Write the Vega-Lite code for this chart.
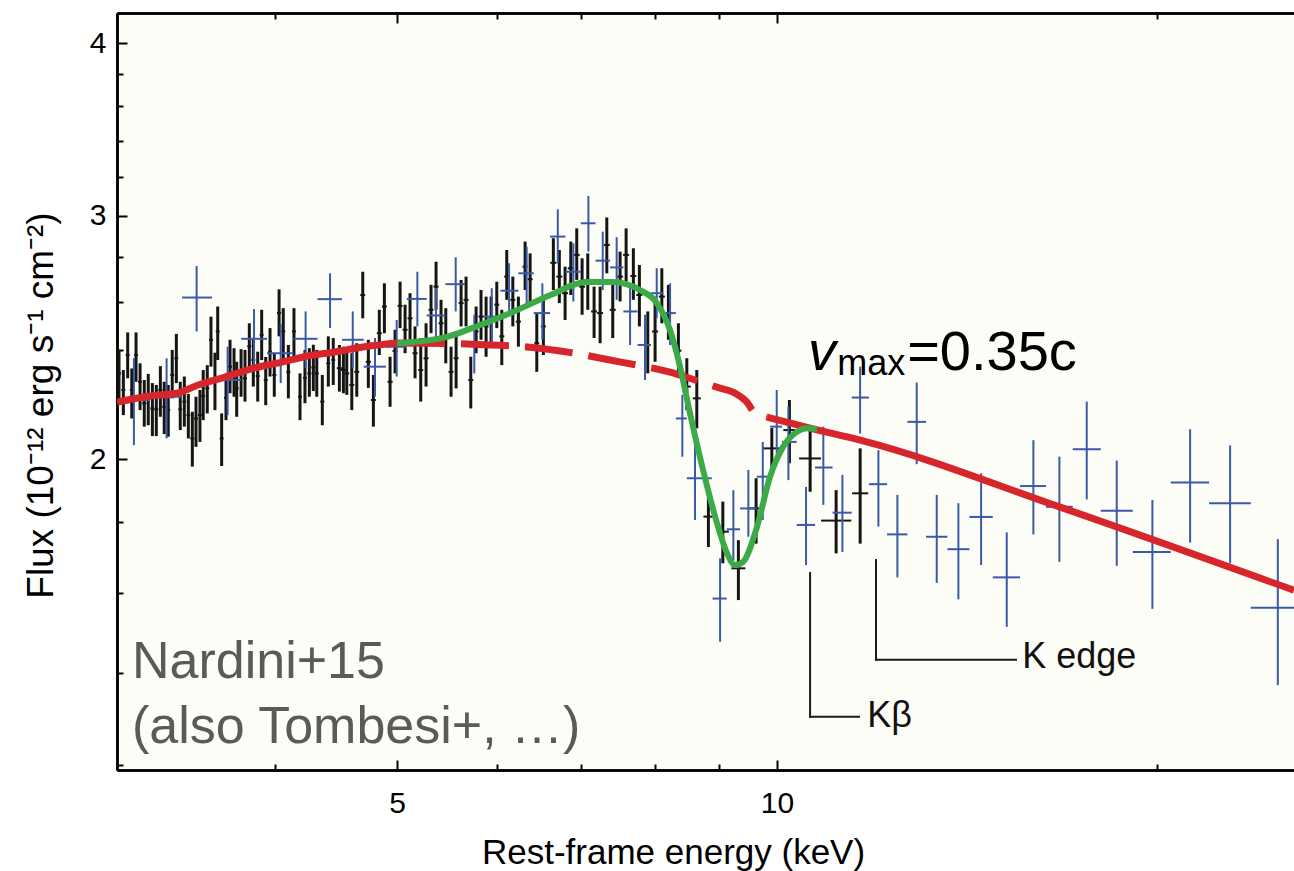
{
  "$schema": "https://vega.github.io/schema/vega-lite/v6.json",
  "width": 1177,
  "height": 757,
  "autosize": {"type": "none"},
  "padding": {"left": 117, "top": 13, "right": 0, "bottom": 101},
  "background": "#ffffff",
  "config": {
    "view": {"stroke": null, "fill": "#fdfdf7"},
    "axis": {"grid": false, "domainColor": "#000000", "domainWidth": 2.5, "tickColor": "#000000", "tickWidth": 2, "labelFont": "Liberation Sans", "titleFont": "Liberation Sans", "labelColor": "#000000", "titleColor": "#000000"}
  },
  "resolve": {"axis": {"x": "independent", "y": "independent"}},
  "datasets": {
    "black": [
      {"e":3.011,"el":3.000,"eh":3.022,"f":2.307,"fl":2.207,"fh":2.399},
      {"e":3.035,"el":3.024,"eh":3.046,"f":2.244,"fl":2.152,"fh":2.320},
      {"e":3.059,"el":3.048,"eh":3.070,"f":2.379,"fl":2.288,"fh":2.470},
      {"e":3.082,"el":3.071,"eh":3.093,"f":2.244,"fl":2.140,"fh":2.326},
      {"e":3.106,"el":3.095,"eh":3.117,"f":2.379,"fl":2.275,"fh":2.470},
      {"e":3.129,"el":3.118,"eh":3.140,"f":2.275,"fl":2.170,"fh":2.346},
      {"e":3.153,"el":3.141,"eh":3.165,"f":2.195,"fl":2.111,"fh":2.282},
      {"e":3.176,"el":3.164,"eh":3.188,"f":2.213,"fl":2.116,"fh":2.305},
      {"e":3.200,"el":3.188,"eh":3.212,"f":2.176,"fl":2.078,"fh":2.270},
      {"e":3.223,"el":3.211,"eh":3.235,"f":2.173,"fl":2.078,"fh":2.263},
      {"e":3.247,"el":3.235,"eh":3.259,"f":2.244,"fl":2.146,"fh":2.335},
      {"e":3.270,"el":3.258,"eh":3.282,"f":2.182,"fl":2.085,"fh":2.275},
      {"e":3.294,"el":3.282,"eh":3.306,"f":2.170,"fl":2.076,"fh":2.263},
      {"e":3.318,"el":3.306,"eh":3.330,"f":2.301,"fl":2.213,"fh":2.399},
      {"e":3.343,"el":3.331,"eh":3.355,"f":2.366,"fl":2.270,"fh":2.464},
      {"e":3.367,"el":3.355,"eh":3.379,"f":2.173,"fl":2.099,"fh":2.275},
      {"e":3.392,"el":3.380,"eh":3.404,"f":2.201,"fl":2.111,"fh":2.295},
      {"e":3.417,"el":3.405,"eh":3.429,"f":2.152,"fl":2.070,"fh":2.229},
      {"e":3.442,"el":3.429,"eh":3.455,"f":2.070,"fl":1.975,"fh":2.164},
      {"e":3.465,"el":3.452,"eh":3.478,"f":2.140,"fl":2.041,"fh":2.219},
      {"e":3.490,"el":3.477,"eh":3.503,"f":2.152,"fl":2.058,"fh":2.244},
      {"e":3.511,"el":3.498,"eh":3.524,"f":2.222,"fl":2.134,"fh":2.320},
      {"e":3.537,"el":3.524,"eh":3.550,"f":2.250,"fl":2.158,"fh":2.339},
      {"e":3.561,"el":3.548,"eh":3.574,"f":2.440,"fl":2.333,"fh":2.536},
      {"e":3.587,"el":3.574,"eh":3.600,"f":2.288,"fl":2.170,"fh":2.388},
      {"e":3.605,"el":3.592,"eh":3.618,"f":2.474,"fl":2.359,"fh":2.579},
      {"e":3.631,"el":3.618,"eh":3.644,"f":2.070,"fl":1.977,"fh":2.158},
      {"e":3.660,"el":3.647,"eh":3.673,"f":2.215,"fl":2.134,"fh":2.301},
      {"e":3.687,"el":3.674,"eh":3.700,"f":2.333,"fl":2.232,"fh":2.440},
      {"e":3.714,"el":3.700,"eh":3.728,"f":2.307,"fl":2.219,"fh":2.406},
      {"e":3.732,"el":3.718,"eh":3.746,"f":2.250,"fl":2.146,"fh":2.352},
      {"e":3.762,"el":3.748,"eh":3.776,"f":2.307,"fl":2.219,"fh":2.402},
      {"e":3.789,"el":3.775,"eh":3.803,"f":2.288,"fl":2.201,"fh":2.399},
      {"e":3.819,"el":3.805,"eh":3.833,"f":2.414,"fl":2.320,"fh":2.508},
      {"e":3.847,"el":3.833,"eh":3.861,"f":2.359,"fl":2.257,"fh":2.447},
      {"e":3.878,"el":3.864,"eh":3.892,"f":2.297,"fl":2.201,"fh":2.392},
      {"e":3.906,"el":3.892,"eh":3.920,"f":2.460,"fl":2.359,"fh":2.565},
      {"e":3.935,"el":3.921,"eh":3.949,"f":2.282,"fl":2.188,"fh":2.371},
      {"e":3.966,"el":3.952,"eh":3.980,"f":2.392,"fl":2.295,"fh":2.488},
      {"e":3.997,"el":3.982,"eh":4.012,"f":2.301,"fl":2.219,"fh":2.386},
      {"e":4.032,"el":4.017,"eh":4.047,"f":2.551,"fl":2.454,"fh":2.654},
      {"e":4.063,"el":4.048,"eh":4.078,"f":2.474,"fl":2.359,"fh":2.572},
      {"e":4.101,"el":4.086,"eh":4.116,"f":2.313,"fl":2.213,"fh":2.419},
      {"e":4.143,"el":4.128,"eh":4.158,"f":2.474,"fl":2.372,"fh":2.572},
      {"e":4.189,"el":4.174,"eh":4.204,"f":2.219,"fl":2.134,"fh":2.307},
      {"e":4.227,"el":4.212,"eh":4.242,"f":2.290,"fl":2.195,"fh":2.399},
      {"e":4.261,"el":4.245,"eh":4.277,"f":2.307,"fl":2.219,"fh":2.406},
      {"e":4.292,"el":4.277,"eh":4.307,"f":2.330,"fl":2.240,"fh":2.420},
      {"e":4.319,"el":4.303,"eh":4.335,"f":2.307,"fl":2.219,"fh":2.399},
      {"e":4.363,"el":4.347,"eh":4.379,"f":2.201,"fl":2.116,"fh":2.301},
      {"e":4.411,"el":4.395,"eh":4.427,"f":2.346,"fl":2.257,"fh":2.454},
      {"e":4.451,"el":4.435,"eh":4.467,"f":2.359,"fl":2.263,"fh":2.447},
      {"e":4.501,"el":4.480,"eh":4.522,"f":2.327,"fl":2.238,"fh":2.419},
      {"e":4.534,"el":4.513,"eh":4.555,"f":2.320,"fl":2.232,"fh":2.412},
      {"e":4.562,"el":4.541,"eh":4.583,"f":2.307,"fl":2.226,"fh":2.399},
      {"e":4.604,"el":4.583,"eh":4.625,"f":2.263,"fl":2.170,"fh":2.386},
      {"e":4.646,"el":4.625,"eh":4.667,"f":2.313,"fl":2.219,"fh":2.426},
      {"e":4.697,"el":4.676,"eh":4.718,"f":2.629,"fl":2.529,"fh":2.733},
      {"e":4.745,"el":4.723,"eh":4.767,"f":2.352,"fl":2.252,"fh":2.440},
      {"e":4.789,"el":4.767,"eh":4.811,"f":2.207,"fl":2.111,"fh":2.301},
      {"e":4.841,"el":4.819,"eh":4.863,"f":2.467,"fl":2.379,"fh":2.565},
      {"e":4.886,"el":4.864,"eh":4.908,"f":2.579,"fl":2.467,"fh":2.681},
      {"e":4.937,"el":4.914,"eh":4.960,"f":2.275,"fl":2.182,"fh":2.372},
      {"e":4.982,"el":4.959,"eh":5.005,"f":2.395,"fl":2.307,"fh":2.481},
      {"e":5.028,"el":5.005,"eh":5.051,"f":2.582,"fl":2.488,"fh":2.688},
      {"e":5.074,"el":5.051,"eh":5.097,"f":2.481,"fl":2.386,"fh":2.587},
      {"e":5.120,"el":5.097,"eh":5.143,"f":2.529,"fl":2.440,"fh":2.637},
      {"e":5.167,"el":5.143,"eh":5.191,"f":2.386,"fl":2.288,"fh":2.495},
      {"e":5.221,"el":5.197,"eh":5.245,"f":2.320,"fl":2.201,"fh":2.447},
      {"e":5.272,"el":5.248,"eh":5.296,"f":2.366,"fl":2.257,"fh":2.508},
      {"e":5.320,"el":5.296,"eh":5.344,"f":2.565,"fl":2.467,"fh":2.674},
      {"e":5.369,"el":5.344,"eh":5.394,"f":2.666,"fl":2.565,"fh":2.779},
      {"e":5.418,"el":5.393,"eh":5.443,"f":2.508,"fl":2.412,"fh":2.608},
      {"e":5.465,"el":5.440,"eh":5.490,"f":2.454,"fl":2.346,"fh":2.572},
      {"e":5.518,"el":5.493,"eh":5.543,"f":2.313,"fl":2.219,"fh":2.412},
      {"e":5.569,"el":5.544,"eh":5.594,"f":2.366,"fl":2.250,"fh":2.474},
      {"e":5.620,"el":5.594,"eh":5.646,"f":2.594,"fl":2.495,"fh":2.696},
      {"e":5.671,"el":5.645,"eh":5.697,"f":2.608,"fl":2.495,"fh":2.711},
      {"e":5.720,"el":5.694,"eh":5.746,"f":2.282,"fl":2.176,"fh":2.372},
      {"e":5.776,"el":5.750,"eh":5.802,"f":2.474,"fl":2.386,"fh":2.579},
      {"e":5.828,"el":5.801,"eh":5.855,"f":2.536,"fl":2.440,"fh":2.651},
      {"e":5.882,"el":5.855,"eh":5.909,"f":2.495,"fl":2.372,"fh":2.622},
      {"e":5.936,"el":5.909,"eh":5.963,"f":2.529,"fl":2.426,"fh":2.622},
      {"e":5.998,"el":5.971,"eh":6.025,"f":2.587,"fl":2.488,"fh":2.688},
      {"e":6.053,"el":6.025,"eh":6.081,"f":2.454,"fl":2.339,"fh":2.565},
      {"e":6.108,"el":6.080,"eh":6.136,"f":2.711,"fl":2.608,"fh":2.834},
      {"e":6.176,"el":6.148,"eh":6.204,"f":2.608,"fl":2.495,"fh":2.711},
      {"e":6.239,"el":6.210,"eh":6.268,"f":2.515,"fl":2.412,"fh":2.622},
      {"e":6.316,"el":6.287,"eh":6.345,"f":2.756,"fl":2.651,"fh":2.874},
      {"e":6.374,"el":6.345,"eh":6.403,"f":2.699,"fl":2.594,"fh":2.818},
      {"e":6.452,"el":6.423,"eh":6.481,"f":2.426,"fl":2.313,"fh":2.551},
      {"e":6.530,"el":6.500,"eh":6.560,"f":2.495,"fl":2.379,"fh":2.608},
      {"e":6.650,"el":6.613,"eh":6.687,"f":2.774,"fl":2.651,"fh":2.890},
      {"e":6.723,"el":6.686,"eh":6.760,"f":2.711,"fl":2.594,"fh":2.834},
      {"e":6.794,"el":6.757,"eh":6.831,"f":2.637,"fl":2.522,"fh":2.756},
      {"e":6.865,"el":6.827,"eh":6.903,"f":2.749,"fl":2.629,"fh":2.874},
      {"e":6.940,"el":6.902,"eh":6.978,"f":2.811,"fl":2.696,"fh":2.938},
      {"e":7.008,"el":6.970,"eh":7.046,"f":2.666,"fl":2.544,"fh":2.795},
      {"e":7.081,"el":7.042,"eh":7.120,"f":2.696,"fl":2.565,"fh":2.818},
      {"e":7.163,"el":7.124,"eh":7.202,"f":2.558,"fl":2.447,"fh":2.666},
      {"e":7.242,"el":7.202,"eh":7.282,"f":2.551,"fl":2.426,"fh":2.666},
      {"e":7.331,"el":7.291,"eh":7.371,"f":2.858,"fl":2.726,"fh":2.992},
      {"e":7.411,"el":7.370,"eh":7.452,"f":2.565,"fl":2.447,"fh":2.681},
      {"e":7.511,"el":7.470,"eh":7.552,"f":2.711,"fl":2.601,"fh":2.826},
      {"e":7.594,"el":7.552,"eh":7.636,"f":2.811,"fl":2.688,"fh":2.938},
      {"e":7.695,"el":7.653,"eh":7.737,"f":2.714,"fl":2.608,"fh":2.842},
      {"e":7.780,"el":7.737,"eh":7.823,"f":2.629,"fl":2.495,"fh":2.764},
      {"e":7.900,"el":7.857,"eh":7.943,"f":2.419,"fl":2.307,"fh":2.558},
      {"e":8.006,"el":7.962,"eh":8.050,"f":2.474,"fl":2.352,"fh":2.622},
      {"e":8.105,"el":8.060,"eh":8.150,"f":2.622,"fl":2.508,"fh":2.749},
      {"e":8.203,"el":8.158,"eh":8.248,"f":2.551,"fl":2.440,"fh":2.674},
      {"e":8.354,"el":8.308,"eh":8.400,"f":2.396,"fl":2.294,"fh":2.508},
      {"e":8.483,"el":8.421,"eh":8.545,"f":2.257,"fl":2.170,"fh":2.366},
      {"e":8.639,"el":8.576,"eh":8.702,"f":2.213,"fl":2.105,"fh":2.320},
      {"e":8.824,"el":8.744,"eh":8.905,"f":1.817,"fl":1.727,"fh":1.904},
      {"e":9.059,"el":8.960,"eh":9.159,"f":1.772,"fl":1.681,"fh":1.863},
      {"e":9.320,"el":9.201,"eh":9.440,"f":1.667,"fl":1.581,"fh":1.747},
      {"e":9.626,"el":9.503,"eh":9.750,"f":1.842,"fl":1.737,"fh":1.937},
      {"e":9.906,"el":9.744,"eh":10.069,"f":2.036,"fl":1.964,"fh":2.106},
      {"e":10.229,"el":10.117,"eh":10.342,"f":2.099,"fl":1.986,"fh":2.207},
      {"e":10.623,"el":10.412,"eh":10.837,"f":2.002,"fl":1.894,"fh":2.099},
      {"e":11.139,"el":10.837,"eh":11.452,"f":1.805,"fl":1.709,"fh":1.899},
      {"e":11.638,"el":11.468,"eh":11.810,"f":1.889,"fl":1.737,"fh":2.036}
    ],
    "blue": [
      {"e":3.094,"el":3.000,"eh":3.186,"f":2.207,"fl":2.047,"fh":2.367},
      {"e":3.284,"el":3.186,"eh":3.378,"f":2.219,"fl":2.070,"fh":2.366},
      {"e":3.469,"el":3.378,"eh":3.568,"f":2.618,"fl":2.474,"fh":2.759},
      {"e":3.671,"el":3.568,"eh":3.762,"f":2.282,"fl":2.152,"fh":2.412},
      {"e":3.852,"el":3.762,"eh":3.944,"f":2.444,"fl":2.333,"fh":2.568},
      {"e":4.044,"el":3.944,"eh":4.140,"f":2.386,"fl":2.270,"fh":2.506},
      {"e":4.232,"el":4.140,"eh":4.325,"f":2.444,"fl":2.327,"fh":2.558},
      {"e":4.425,"el":4.325,"eh":4.523,"f":2.611,"fl":2.488,"fh":2.726},
      {"e":4.612,"el":4.523,"eh":4.705,"f":2.440,"fl":2.327,"fh":2.558},
      {"e":4.803,"el":4.705,"eh":4.900,"f":2.333,"fl":2.219,"fh":2.447},
      {"e":4.997,"el":4.900,"eh":5.089,"f":2.412,"fl":2.295,"fh":2.522},
      {"e":5.189,"el":5.089,"eh":5.278,"f":2.612,"fl":2.495,"fh":2.733},
      {"e":5.368,"el":5.278,"eh":5.462,"f":2.541,"fl":2.412,"fh":2.659},
      {"e":5.565,"el":5.462,"eh":5.660,"f":2.677,"fl":2.558,"fh":2.800},
      {"e":5.757,"el":5.660,"eh":5.849,"f":2.426,"fl":2.307,"fh":2.544},
      {"e":5.943,"el":5.849,"eh":6.037,"f":2.536,"fl":2.412,"fh":2.659},
      {"e":6.134,"el":6.037,"eh":6.239,"f":2.648,"fl":2.544,"fh":2.772},
      {"e":6.334,"el":6.239,"eh":6.416,"f":2.726,"fl":2.594,"fh":2.850},
      {"e":6.518,"el":6.416,"eh":6.610,"f":2.551,"fl":2.440,"fh":2.681},
      {"e":6.704,"el":6.610,"eh":6.797,"f":2.898,"fl":2.772,"fh":3.033},
      {"e":6.897,"el":6.797,"eh":6.991,"f":2.733,"fl":2.601,"fh":2.866},
      {"e":7.089,"el":6.991,"eh":7.182,"f":2.963,"fl":2.826,"fh":3.101},
      {"e":7.277,"el":7.182,"eh":7.375,"f":2.784,"fl":2.651,"fh":2.922},
      {"e":7.464,"el":7.375,"eh":7.556,"f":2.753,"fl":2.608,"fh":2.895},
      {"e":7.649,"el":7.556,"eh":7.754,"f":2.558,"fl":2.419,"fh":2.681},
      {"e":7.860,"el":7.754,"eh":7.943,"f":2.419,"fl":2.282,"fh":2.544},
      {"e":8.030,"el":7.943,"eh":8.127,"f":2.637,"fl":2.529,"fh":2.749},
      {"e":8.228,"el":8.127,"eh":8.315,"f":2.551,"fl":2.419,"fh":2.681},
      {"e":8.414,"el":8.315,"eh":8.483,"f":2.140,"fl":2.008,"fh":2.226},
      {"e":8.611,"el":8.483,"eh":8.878,"f":1.937,"fl":1.807,"fh":2.053},
      {"e":9.014,"el":8.891,"eh":9.123,"f":1.585,"fl":1.475,"fh":1.695},
      {"e":9.235,"el":9.123,"eh":9.349,"f":1.779,"fl":1.690,"fh":1.899},
      {"e":9.491,"el":9.349,"eh":9.637,"f":1.842,"fl":1.757,"fh":1.964},
      {"e":9.744,"el":9.637,"eh":9.875,"f":1.942,"fl":1.807,"fh":2.058},
      {"e":9.995,"el":9.875,"eh":10.093,"f":2.111,"fl":1.997,"fh":2.244},
      {"e":10.210,"el":10.093,"eh":10.366,"f":2.058,"fl":1.931,"fh":2.182},
      {"e":10.544,"el":10.366,"eh":10.719,"f":1.792,"fl":1.676,"fh":1.909},
      {"e":10.882,"el":10.719,"eh":11.067,"f":1.972,"fl":1.853,"fh":2.111},
      {"e":11.267,"el":11.067,"eh":11.461,"f":1.829,"fl":1.713,"fh":1.948},
      {"e":11.637,"el":11.461,"eh":11.825,"f":2.216,"fl":2.087,"fh":2.333},
      {"e":12.032,"el":11.825,"eh":12.224,"f":1.918,"fl":1.787,"fh":2.030},
      {"e":12.456,"el":12.224,"eh":12.686,"f":1.764,"fl":1.642,"fh":1.884},
      {"e":12.903,"el":12.686,"eh":13.124,"f":2.128,"fl":1.983,"fh":2.272},
      {"e":13.383,"el":13.124,"eh":13.646,"f":1.757,"fl":1.627,"fh":1.884},
      {"e":13.922,"el":13.646,"eh":14.205,"f":1.721,"fl":1.583,"fh":1.858},
      {"e":14.511,"el":14.205,"eh":14.824,"f":1.816,"fl":1.676,"fh":1.953},
      {"e":15.206,"el":14.824,"eh":15.581,"f":1.642,"fl":1.512,"fh":1.770},
      {"e":15.963,"el":15.581,"eh":16.336,"f":1.912,"fl":1.764,"fh":2.064},
      {"e":16.739,"el":16.336,"eh":17.153,"f":1.847,"fl":1.685,"fh":2.008},
      {"e":17.595,"el":17.153,"eh":18.052,"f":2.033,"fl":1.870,"fh":2.201},
      {"e":18.585,"el":18.052,"eh":19.137,"f":1.835,"fl":1.674,"fh":1.995},
      {"e":19.834,"el":19.137,"eh":20.511,"f":1.713,"fl":1.558,"fh":1.868},
      {"e":21.247,"el":20.511,"eh":21.996,"f":1.923,"fl":1.740,"fh":2.102},
      {"e":22.855,"el":21.996,"eh":23.735,"f":1.858,"fl":1.681,"fh":2.046},
      {"e":24.933,"el":23.735,"eh":26.204,"f":1.561,"fl":1.372,"fh":1.750}
    ],
    "model": [
      {"seg":"a","e":3.000,"f":2.199},
      {"seg":"a","e":3.175,"f":2.221},
      {"seg":"a","e":3.353,"f":2.233},
      {"seg":"a","e":3.478,"f":2.263},
      {"seg":"a","e":3.653,"f":2.293},
      {"seg":"a","e":3.858,"f":2.328},
      {"seg":"a","e":4.053,"f":2.351},
      {"seg":"a","e":4.250,"f":2.375},
      {"seg":"a","e":4.465,"f":2.391},
      {"seg":"a","e":4.699,"f":2.411},
      {"seg":"a","e":5.000,"f":2.427},
      {"seg":"b","e":5.000,"f":2.427},
      {"seg":"b","e":5.477,"f":2.425},
      {"seg":"b","e":5.924,"f":2.419},
      {"seg":"b","e":6.338,"f":2.411},
      {"seg":"b","e":6.893,"f":2.387},
      {"seg":"b","e":7.374,"f":2.359},
      {"seg":"b","e":7.747,"f":2.339},
      {"seg":"b","e":8.227,"f":2.312},
      {"seg":"b","e":8.659,"f":2.278},
      {"seg":"b","e":9.013,"f":2.251},
      {"seg":"b","e":9.230,"f":2.236},
      {"seg":"b","e":9.365,"f":2.218},
      {"seg":"b","e":9.468,"f":2.199},
      {"seg":"b","e":9.572,"f":2.167},
      {"seg":"b","e":9.695,"f":2.152},
      {"seg":"b","e":9.820,"f":2.145},
      {"seg":"c","e":9.820,"f":2.145},
      {"seg":"c","e":10.680,"f":2.103},
      {"seg":"c","e":11.639,"f":2.064},
      {"seg":"c","e":16.762,"f":1.846},
      {"seg":"c","e":25.68,"f":1.607}
    ],
    "green": [
      {"e":5.000,"f":2.426},
      {"e":5.477,"f":2.452},
      {"e":5.817,"f":2.501},
      {"e":6.178,"f":2.556},
      {"e":6.609,"f":2.628},
      {"e":7.071,"f":2.687},
      {"e":7.414,"f":2.687},
      {"e":7.789,"f":2.651},
      {"e":8.034,"f":2.593},
      {"e":8.227,"f":2.480},
      {"e":8.379,"f":2.333},
      {"e":8.533,"f":2.158},
      {"e":8.738,"f":1.964},
      {"e":8.964,"f":1.797},
      {"e":9.129,"f":1.709},
      {"e":9.263,"f":1.676},
      {"e":9.399,"f":1.685},
      {"e":9.643,"f":1.787},
      {"e":9.874,"f":1.942},
      {"e":10.111,"f":2.041},
      {"e":10.373,"f":2.093},
      {"e":10.564,"f":2.105},
      {"e":10.758,"f":2.103}
    ],
    "ann": [
      {"e":10.622,"e2":10.622,"f":1.6538,"f2":1.3015},
      {"e":10.622,"e2":11.615,"f":1.3015,"f2":1.3015},
      {"e":11.980,"e2":11.980,"f":1.690,"f2":1.4313},
      {"e":11.980,"e2":15.466,"f":1.4313,"f2":1.4313}
    ],
    "labels": [
      {"kind":"v","e":10.58,"f":2.320,"t":"v"},
      {"kind":"max","e":11.16,"f":2.301,"t":"max"},
      {"kind":"eq","e":12.68,"f":2.320,"t":"=0.35c"},
      {"kind":"ref","e":3.083,"f":1.388,"t":"Nardini+15"},
      {"kind":"ref","e":3.083,"f":1.2456,"t":"(also Tombesi+, …)"},
      {"kind":"k","e":15.64,"f":1.4115,"t":"K edge"},
      {"kind":"k","e":11.79,"f":1.2793,"t":"Kβ"}
    ]
  },
  "layer": [
    {
      "data": {"name": "black"},
      "mark": {"type": "rule", "color": "#151515", "strokeWidth": 3},
      "encoding": {
        "x": {"field": "e", "type": "quantitative", "scale": {"type": "log", "domain": [3, 25.68], "nice": false, "zero": false},
          "axis": {"orient": "bottom", "values": [5, 10], "tickSize": -10, "labelFontSize": 30, "labelPadding": 28, "labelFlush": false, "labelOverlap": false,
            "title": "Rest-frame energy (keV)", "titleFontSize": 35, "titleFontWeight": "normal", "titleX": 556, "titleY": 93, "titleAlign": "center", "titleBaseline": "alphabetic", "titleAnchor": null}},
        "y": {"field": "fl", "type": "quantitative", "scale": {"type": "log", "domain": [1.191, 4.207], "nice": false, "zero": false},
          "axis": {"orient": "left", "values": [2, 3, 4], "tickSize": -10, "labelFontSize": 30, "labelPadding": 21, "labelFlush": false, "labelOverlap": false,
            "title": "Flux (10⁻¹² erg s⁻¹ cm⁻²)", "titleFontSize": 37, "titleFontWeight": "normal", "titleX": -76, "titleY": 392, "titleAlign": "center", "titleBaseline": "middle", "titleAngle": 270, "titleAnchor": null}},
        "y2": {"field": "fh"}
      }
    },
    {
      "data": {"name": "black"},
      "mark": {"type": "rule", "color": "#151515", "strokeWidth": 2},
      "encoding": {
        "x": {"field": "el", "type": "quantitative", "scale": {"type": "log", "domain": [3, 25.68], "nice": false, "zero": false},
          "axis": {"orient": "bottom", "values": [4, 6, 7, 8, 9, 20], "tickSize": -6, "labels": false, "title": null}},
        "x2": {"field": "eh"},
        "y": {"field": "f", "type": "quantitative", "scale": {"type": "log", "domain": [1.191, 4.207], "nice": false, "zero": false},
          "axis": {"orient": "left", "values": [1.2, 1.4, 1.6, 1.8, 2.2, 2.4, 2.6, 2.8, 3.2, 3.4, 3.6, 3.8], "tickSize": -6, "labels": false, "title": null}}
      }
    },
    {
      "data": {"name": "blue"},
      "mark": {"type": "rule", "color": "#3a5aa8", "strokeWidth": 2},
      "encoding": {
        "x": {"field": "e", "type": "quantitative", "scale": {"type": "log", "domain": [3, 25.68], "nice": false, "zero": false},
          "axis": {"orient": "top", "values": [5, 10], "tickSize": -10, "labels": false, "title": null}},
        "y": {"field": "fl", "type": "quantitative", "scale": {"type": "log", "domain": [1.191, 4.207], "nice": false, "zero": false}, "axis": null},
        "y2": {"field": "fh"}
      }
    },
    {
      "data": {"name": "blue"},
      "mark": {"type": "rule", "color": "#3a5aa8", "strokeWidth": 2, "clip": true},
      "encoding": {
        "x": {"field": "el", "type": "quantitative", "scale": {"type": "log", "domain": [3, 25.68], "nice": false, "zero": false},
          "axis": {"orient": "top", "values": [4, 6, 7, 8, 9, 20], "tickSize": -6, "labels": false, "title": null}},
        "x2": {"field": "eh"},
        "y": {"field": "f", "type": "quantitative", "scale": {"type": "log", "domain": [1.191, 4.207], "nice": false, "zero": false}, "axis": null}
      }
    },
    {
      "data": {"name": "model"},
      "transform": [{"filter": "datum.seg != 'b'"}],
      "mark": {"type": "line", "color": "#d7262b", "strokeWidth": 7, "interpolate": "monotone", "clip": true},
      "encoding": {
        "x": {"field": "e", "type": "quantitative", "axis": null},
        "y": {"field": "f", "type": "quantitative", "axis": null},
        "detail": {"field": "seg"}
      }
    },
    {
      "data": {"name": "model"},
      "transform": [{"filter": "datum.seg == 'b'"}],
      "mark": {"type": "line", "color": "#d7262b", "strokeWidth": 7, "interpolate": "monotone", "strokeDash": [48, 16], "strokeCap": "butt"},
      "encoding": {
        "x": {"field": "e", "type": "quantitative", "axis": null},
        "y": {"field": "f", "type": "quantitative", "axis": null}
      }
    },
    {
      "data": {"name": "green"},
      "mark": {"type": "line", "color": "#3cab47", "strokeWidth": 6, "interpolate": "monotone"},
      "encoding": {
        "x": {"field": "e", "type": "quantitative", "axis": null},
        "y": {"field": "f", "type": "quantitative", "axis": null}
      }
    },
    {
      "data": {"name": "ann"},
      "mark": {"type": "rule", "color": "#1a1a1a", "strokeWidth": 2, "strokeCap": "square"},
      "encoding": {
        "x": {"field": "e", "type": "quantitative", "axis": null},
        "x2": {"field": "e2"},
        "y": {"field": "f", "type": "quantitative", "axis": null},
        "y2": {"field": "f2"}
      }
    },
    {
      "data": {"name": "labels"},
      "transform": [{"filter": "datum.kind == 'v'"}],
      "mark": {"type": "text", "align": "left", "baseline": "alphabetic", "font": "Liberation Sans", "fontSize": 56, "fontStyle": "italic", "color": "#000000"},
      "encoding": {
        "x": {"field": "e", "type": "quantitative", "axis": null},
        "y": {"field": "f", "type": "quantitative", "axis": null},
        "text": {"field": "t"}
      }
    },
    {
      "data": {"name": "labels"},
      "transform": [{"filter": "datum.kind == 'max'"}],
      "mark": {"type": "text", "align": "left", "baseline": "alphabetic", "font": "Liberation Sans", "fontSize": 36, "color": "#000000"},
      "encoding": {
        "x": {"field": "e", "type": "quantitative", "axis": null},
        "y": {"field": "f", "type": "quantitative", "axis": null},
        "text": {"field": "t"}
      }
    },
    {
      "data": {"name": "labels"},
      "transform": [{"filter": "datum.kind == 'eq'"}],
      "mark": {"type": "text", "align": "left", "baseline": "alphabetic", "font": "Liberation Sans", "fontSize": 56, "color": "#000000"},
      "encoding": {
        "x": {"field": "e", "type": "quantitative", "axis": null},
        "y": {"field": "f", "type": "quantitative", "axis": null},
        "text": {"field": "t"}
      }
    },
    {
      "data": {"name": "labels"},
      "transform": [{"filter": "datum.kind == 'ref'"}],
      "mark": {"type": "text", "align": "left", "baseline": "alphabetic", "font": "Liberation Sans", "fontSize": 52, "color": "#5a5a5a"},
      "encoding": {
        "x": {"field": "e", "type": "quantitative", "axis": null},
        "y": {"field": "f", "type": "quantitative", "axis": null},
        "text": {"field": "t"}
      }
    },
    {
      "data": {"name": "labels"},
      "transform": [{"filter": "datum.kind == 'k'"}],
      "mark": {"type": "text", "align": "left", "baseline": "alphabetic", "font": "Liberation Sans", "fontSize": 36, "color": "#111111"},
      "encoding": {
        "x": {"field": "e", "type": "quantitative", "axis": null},
        "y": {"field": "f", "type": "quantitative", "axis": null},
        "text": {"field": "t"}
      }
    }
  ]
}
